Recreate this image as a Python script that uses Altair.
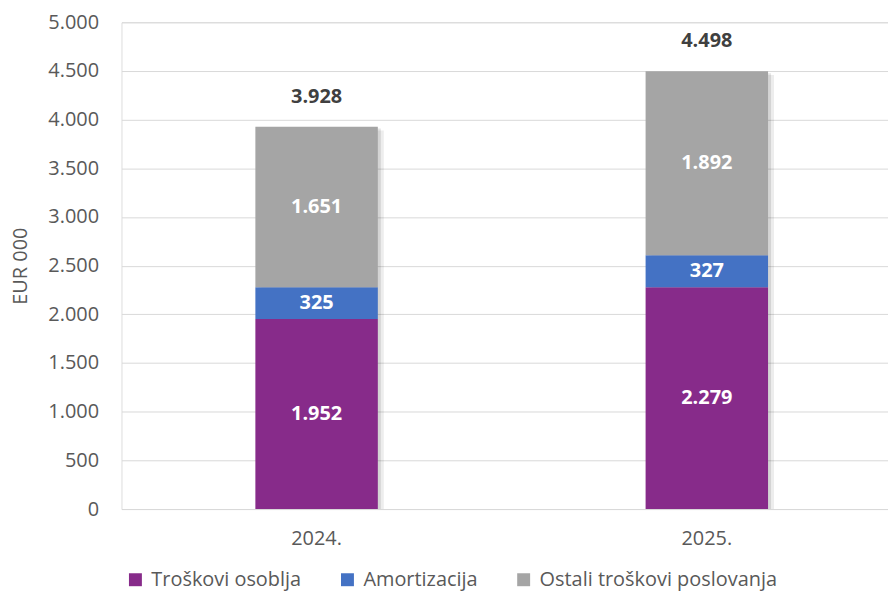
import altair as alt
import pandas as pd

categories = ["2024.", "2025."]
series = ["Troškovi osoblja", "Amortizacija", "Ostali troškovi poslovanja"]
troskovi_osoblja = [1952, 2279]
amortizacija = [325, 327]
ostali_troskovi = [1651, 1892]
totals = [3928, 4498]
colors = ["#872B8A", "#4472C4", "#A5A5A5"]
y_ticks = [0, 500, 1000, 1500, 2000, 2500, 3000, 3500, 4000, 4500, 5000]


def fmt(v):
    return f"{v:,}".replace(",", ".")


rows = []
values_by_series = [troskovi_osoblja, amortizacija, ostali_troskovi]
for i, cat in enumerate(categories):
    start = 0
    for k, s in enumerate(series):
        v = values_by_series[k][i]
        rows.append({"year": cat, "series": s, "order": k, "value": v,
                     "start": start, "end": start + v, "mid": start + v / 2,
                     "label": fmt(v)})
        start += v
df = pd.DataFrame(rows)
tot = pd.DataFrame({"year": categories, "total": totals,
                    "label": [fmt(t) for t in totals]})

FONT = "Open Sans"

x_enc = alt.X("year:N", sort=categories,
              scale=alt.Scale(range=[0, 784], paddingInner=0.6862, paddingOuter=0.3431),
              axis=alt.Axis(title=None, labelAngle=0, ticks=False, domain=False,
                            labelFontSize=20, labelColor="#595959", labelFont=FONT,
                            labelPadding=20))
y_scale = alt.Scale(domain=[0, 5000], nice=False)
y_axis = alt.Axis(title="EUR 000", values=y_ticks, ticks=False, domain=False,
                  labelExpr="replace(format(datum.value, ','), ',', '.')",
                  labelFontSize=20, labelColor="#595959", labelFont=FONT,
                  labelPadding=23, grid=True, gridColor="#D9D9D9", gridWidth=1,
                  titleFontSize=20, titleColor="#595959", titleFont=FONT,
                  titleFontWeight="normal", titleX=-101, titleY=244.5,
                  titleAngle=270, titleAlign="center", titleBaseline="middle")

shadow1 = alt.Chart(tot).mark_bar(color="black", opacity=0.10, xOffset=3, yOffset=2).encode(
    x=x_enc, y=alt.Y("total:Q", scale=y_scale, axis=y_axis), y2=alt.datum(0))
shadow2 = alt.Chart(tot).mark_bar(color="black", opacity=0.07, xOffset=6, yOffset=4).encode(
    x=x_enc, y=alt.Y("total:Q", scale=y_scale), y2=alt.datum(0))

bars = alt.Chart(df).mark_bar().encode(
    x=x_enc,
    y=alt.Y("start:Q", scale=y_scale, axis=y_axis),
    y2="end:Q",
    color=alt.Color("series:N", sort=series,
                    scale=alt.Scale(domain=series, range=colors),
                    legend=alt.Legend(title=None, orient="none", direction="horizontal",
                                      legendX=4, legendY=550, symbolType="square",
                                      symbolSize=169, symbolStrokeWidth=0,
                                      labelFontSize=20, labelColor="#595959",
                                      labelFont=FONT, labelOffset=6, labelLimit=500,
                                      columnPadding=36)),
)

seg_text = alt.Chart(df).mark_text(color="white", fontWeight="bold", fontSize=20,
                                   font=FONT, baseline="middle").encode(
    x=x_enc, y=alt.Y("mid:Q", scale=y_scale), text="label:N")

tot_text = alt.Chart(tot).mark_text(color="#404040", fontWeight="bold", fontSize=20,
                                    font=FONT, baseline="middle", dy=-30).encode(
    x=x_enc, y=alt.Y("total:Q", scale=y_scale), text="label:N")

chart = alt.layer(shadow2, shadow1, bars, seg_text, tot_text).properties(
    width=770, height=489,
    autosize=alt.AutoSizeParams(type="none"),
    padding={"left": 114, "top": 13, "right": 0, "bottom": 82},
).configure_view(stroke=None).configure(background="white")

chart.save("out.html", embed_options={"renderer": "svg", "actions": False})
